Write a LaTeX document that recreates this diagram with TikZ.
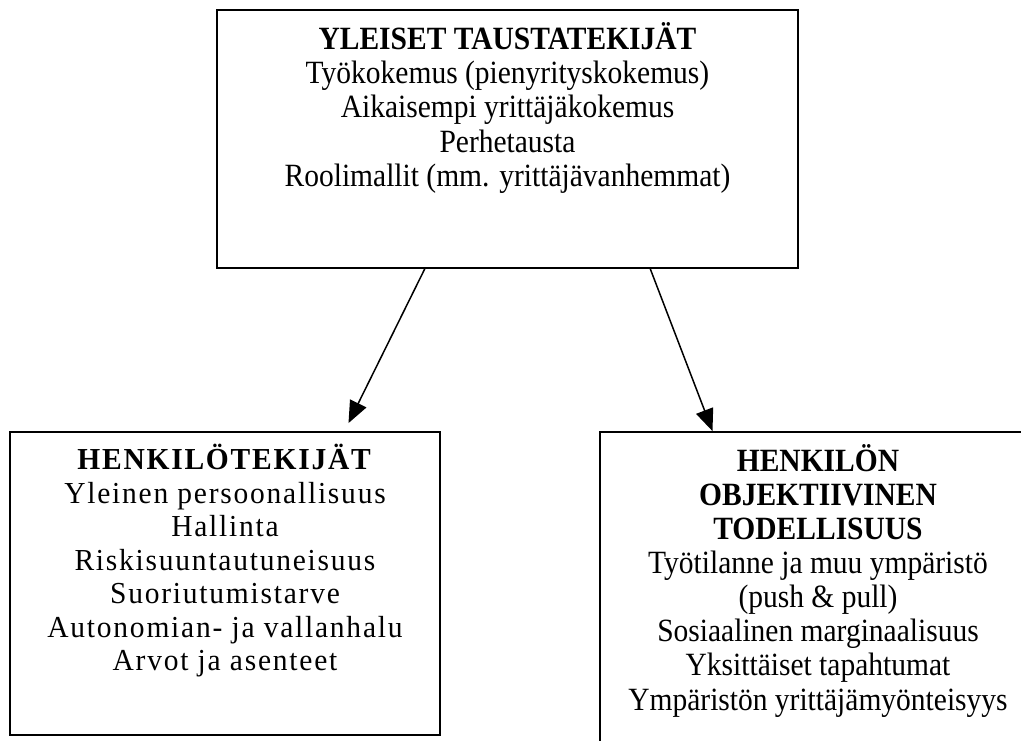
\documentclass[tikz,border=0pt]{standalone}
\usepackage{fontspec}
\setmainfont{Liberation Serif}
\newfontfamily\spacedfont[LetterSpace=6]{Liberation Serif}
\usetikzlibrary{arrows.meta,positioning,calc}

\begin{document}
\begin{tikzpicture}[
  x=1pt, y=1pt,
  frame/.style={draw, line width=1.8pt, inner sep=0pt},
  txt/.style={inner sep=0pt, align=center, transform shape, yscale=1.1, font=\fontsize{29.5}{31}\selectfont},
  arr/.style={-{Triangle[length=22pt, width=18pt]}, line width=1.5pt},
]
  \useasboundingbox (0,0) rectangle (1021,740);
  \fill[white] (0,0) rectangle (1021,740);
  \clip (0,0) rectangle (1021,740);

  % Top box
  \node[frame, minimum width=581pt, minimum height=258pt] (top) at (507.5,601) {};
  \node[txt, font=\fontsize{29.5}{31.2}\selectfont, below=13pt of top.north] (toptxt)
    {\textbf{YLEISET TAUSTATEKIJÄT}\\Työkokemus (pienyrityskokemus)\\Aikaisempi yrittäjäkokemus\\Perhetausta\\Roolimallit (mm. yrittäjävanhemmat)};

  % Left box
  \node[frame, minimum width=430pt, minimum height=303pt] (lbox) at (225,156.5) {};
  \node[txt, yscale=0.94, font=\fontsize{29.5}{32.4}\spacedfont, below=13pt of lbox.north] (ltxt)
    {\textbf{HENKILÖTEKIJÄT}\\Yleinen persoonallisuus\\Hallinta\\Riskisuuntautuneisuus\\Suoriutumistarve\\Autonomian- ja vallanhalu\\Arvot ja asenteet};

  % Right box (runs past the page edge)
  \node[frame, minimum width=436pt, minimum height=348pt] (rbox) at (818,134) {};
  \node[txt, below=13pt of rbox.north] (rtxt)
    {\textbf{HENKILÖN}\\\textbf{OBJEKTIIVINEN}\\\textbf{TODELLISUUS}\\Työtilanne ja muu ympäristö\\(push \& pull)\\Sosiaalinen marginaalisuus\\Yksittäiset tapahtumat\\Ympäristön yrittäjämyönteisyys};

  % Edges
  \draw[arr] ($(top.south west)!0.358!(top.south east)$) -- ($(lbox.north west)!0.786!(lbox.north east)+(0,8)$);
  \draw[arr] ($(top.south west)!0.745!(top.south east)$) -- ($(rbox.north west)!0.259!(rbox.north east)$);
\end{tikzpicture}
\end{document}
